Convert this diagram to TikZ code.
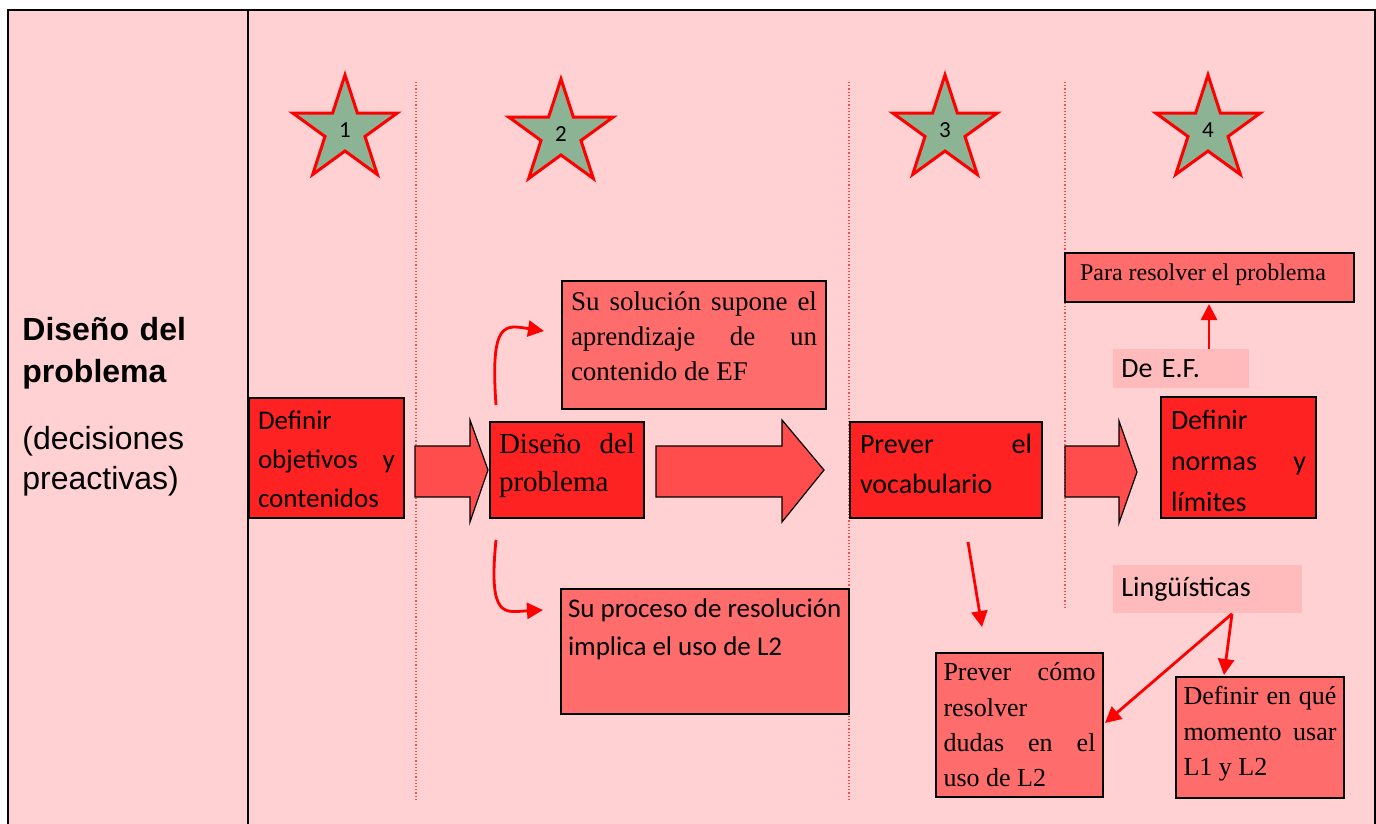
\documentclass[tikz,border=0pt]{standalone}
\usepackage{fontspec}
\setmainfont{Liberation Serif}
\newfontfamily\calibri{Carlito}
\newfontfamily\arial{Liberation Sans}
\usetikzlibrary{shapes.geometric,arrows.meta,calc}

\definecolor{bgpink}{RGB}{255,209,211}
\definecolor{boxdark}{RGB}{255,34,34}
\definecolor{boxlight}{RGB}{255,108,108}
\definecolor{arrowfill}{RGB}{255,77,77}
\definecolor{tagpink}{RGB}{255,187,187}
\definecolor{stargreen}{RGB}{140,179,148}

\tikzset{
    darkbox/.style={draw=black, line width=1pt, fill=boxdark, anchor=north west, inner xsep=4.5pt},
    lightbox/.style={draw=black, line width=1pt, fill=boxlight, anchor=north west, inner xsep=4.5pt},
    tagbox/.style={fill=tagpink, anchor=north west, inner xsep=4pt, inner ysep=0pt, align=left, font=\calibri\fontsize{14}{17}\selectfont},
    starbox/.style={star, star points=5, star point ratio=2.618, minimum size=55pt, inner sep=0pt, draw=red, line width=1.5pt, fill=stargreen, font=\calibri\fontsize{11.5}{13}\selectfont},
    bigarrow/.style={draw=black, line width=0.6pt, fill=arrowfill},
    guide/.style={draw=red!70, densely dotted, line width=0.6pt},
    link/.style={draw=red, line width=1.4pt, -{Triangle[length=8pt,width=8pt]}}
}

\begin{document}
\begin{tikzpicture}[x=0.5pt, y=-0.5pt]
        \useasboundingbox (0, 0) rectangle (1376, 824);
        % frame
        \fill[bgpink] (7.5, 10) rectangle (1376, 824);
        \draw[line width=1pt] (7.5, 824) -- (7.5, 10) -- (1375, 10) -- (1375, 824);
        \draw[line width=1pt] (248, 10) -- (248, 824);
        \draw[guide] (416, 82) -- (416, 800);
        \draw[guide] (849, 82) -- (849, 800);
        \draw[guide] (1065, 82) -- (1065, 608);

        % left column
        \node[anchor=base west, inner sep=0pt, text width=110pt, font=\arial\bfseries\fontsize{16}{21}\selectfont] (title) at (22, 340) {Diseño del\\ problema};
        \node[anchor=base west, inner sep=0pt, text width=110pt, font=\arial\fontsize{16}{20}\selectfont] (subtitle) at (22, 449) {(decisiones\\ preactivas)};

        % stars
        \node[starbox] (star1) at (345, 130) {\raisebox{-2pt}{1}};
        \node[starbox] (star2) at (561, 134) {\raisebox{-1.5pt}{2}};
        \node[starbox] (star3) at (945, 130) {3};
        \node[starbox] (star4) at (1208, 130) {\raisebox{-1.5pt}{4}};

        % block arrows
        \draw[bigarrow] (415, 446) -- (470, 446) -- (470, 420) -- (488, 470) -- (470, 522) -- (470, 497) -- (415, 497) -- cycle;
        \draw[bigarrow] (656, 446) -- (782, 446) -- (782, 420) -- (824, 470) -- (782, 522) -- (782, 497) -- (656, 497) -- cycle;
        \draw[bigarrow] (1065, 446) -- (1119, 446) -- (1119, 421) -- (1137, 472) -- (1119, 523) -- (1119, 497) -- (1065, 497) -- cycle;

        % boxes
        \node[darkbox, inner ysep=6.2pt, font=\calibri\fontsize{13.5}{19.5}\selectfont] (objetivos) at (248, 397)
            {\parbox[t][47.6pt][t]{68.5pt}{Definir\\ objetivos\hfill y\\ contenidos}};
        \node[darkbox, inner ysep=5.7pt, font=\fontsize{14.5}{19}\selectfont] (diseno) at (489, 421)
            {\parbox[t][36.6pt][t]{68pt}{Diseño\hfill del\\ problema}};
        \node[lightbox, inner ysep=5.4pt, font=\fontsize{13.5}{17.5}\selectfont] (solucion) at (561, 280)
            {\parbox[t][53.2pt][t]{123pt}{Su\hfill solución\hfill supone\hfill el\\ aprendizaje\hfill de\hfill un\\ contenido de EF}};
        \node[lightbox, inner xsep=3.5pt, inner ysep=5pt, font=\calibri\fontsize{13.5}{19}\selectfont] (proceso) at (560, 588)
            {\parbox[t][52.5pt][t]{137pt}{Su proceso de resolución\\ implica el uso de L2}};
        \node[darkbox, inner xsep=5pt, inner ysep=6.1pt, font=\calibri\fontsize{14}{20}\selectfont] (vocab) at (849, 421)
            {\parbox[t][35.8pt][t]{86pt}{Prever\hfill el\\ vocabulario}};
        \node[darkbox, inner xsep=5pt, inner ysep=6.6pt, font=\calibri\fontsize{14}{20.5}\selectfont] (normas) at (1160, 396)
            {\parbox[t][47.3pt][t]{67.5pt}{Definir\\ normas\hfill y\\ límites}};
        \node[lightbox, inner xsep=7.5pt, inner ysep=5.2pt, font=\fontsize{12}{14}\selectfont] (para) at (1064, 252)
            {\parbox[t][14.1pt][t]{129.5pt}{Para resolver el problema}};
        \node[lightbox, inner xsep=3.75pt, inner ysep=4.8pt, font=\fontsize{13}{17.7}\selectfont] (dudas) at (935, 652)
            {\parbox[t][62.4pt][t]{76pt}{Prever\hfill cómo\\ resolver\\ dudas\hfill en\hfill el\\ uso de L2}};
        \node[lightbox, inner xsep=3.75pt, inner ysep=4.7pt, font=\fontsize{13}{17.7}\selectfont] (momento) at (1175, 676)
            {\parbox[t][51.1pt][t]{76.5pt}{Definir\hfill en\hfill qué\\ momento\hfill usar\\ L1 y L2}};
        \node[tagbox, minimum width=68pt, minimum height=19.5pt, text width=60pt] (deef) at (1113, 349) {De E.F.};
        \node[tagbox, minimum width=94.5pt, minimum height=24pt, text width=86.5pt] (ling) at (1113, 565) {Lingüísticas};

        % connectors
        \draw[link] ($(diseno.north west)+(7,-16)$) .. controls (490, 320) and (505, 325) .. ($(solucion.north west)+(-17,51)$);
        \draw[link] ($(diseno.south west)+(7,21)$) .. controls (488, 620) and (505, 612) .. ($(proceso.north west)+(-17,22)$);
        \draw[link] ($(vocab.south west)+(119,23)$) -- ($(dudas.north west)+(47,-25)$);
        \draw[link] ($(deef.north west)+(96,0)$) -- ($(para.south west)+(145,1)$);
        \draw[link] ($(ling.south west)+(119,0)$) -- ($(dudas.north east)+(1,71)$);
        \draw[link] ($(ling.south west)+(119,0)$) -- ($(momento.north west)+(49,-1)$);
    \end{tikzpicture}
\end{document}
